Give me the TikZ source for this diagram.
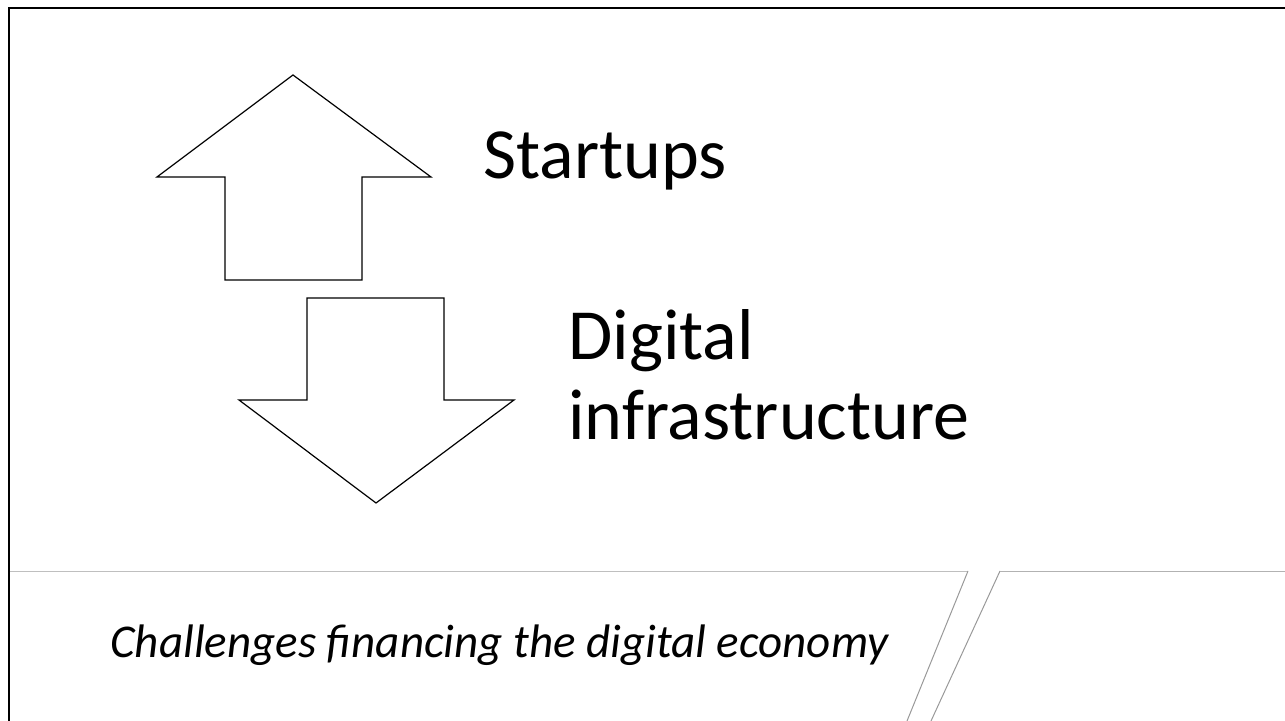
\documentclass[tikz,border=0pt]{standalone}
\usepackage{fontspec}
\setmainfont{Carlito}
\usetikzlibrary{positioning,calc}

\begin{document}
\begin{tikzpicture}[x=0.5pt, y=-0.5pt,
  bigarrow/.style={draw=black, line width=0.6pt, line join=miter, fill=white},
  bigtext/.style={font=\fontsize{36}{40}\selectfont, anchor=base west, inner sep=0pt},
  cornerline/.style={draw=black!40, line width=0.5pt}]
\useasboundingbox (0,0) rectangle (1285,721);
%frame
\draw[line width=1.1pt] (9,721) -- (9,8) -- (1285,8);
%arrows
\draw[bigarrow] (293,75) -- (431,177) -- (362,177) -- (362,280) -- (225,280) -- (225,177) -- (157,177) -- cycle;
\draw[bigarrow] (307,298) -- (444,298) -- (444,400) -- (514,400) -- (376,503) -- (239,400) -- (307,400) -- cycle;
%nodes
\node[bigtext] (startups) at (483,179) {Startups};
\node[bigtext] (digital) at (568,360) {Digital};
\node[bigtext] (infra) at ($(digital.base west)+(0,80)$) {infrastructure};
%footer
\draw[draw=black!25, line width=0.5pt] (10,571) -- (968,571);
\draw[cornerline] (968,571) -- (907,721);
\draw[cornerline] (1000,571) -- (931,721);
\draw[draw=black!30, line width=0.5pt] (1000,571) -- (1285,571);
\node[inner sep=0pt, anchor=base west, font=\fontsize{23.5}{28}\selectfont\itshape] (caption) at (110,657) {Challenges financing the digital economy};
\end{tikzpicture}
\end{document}
